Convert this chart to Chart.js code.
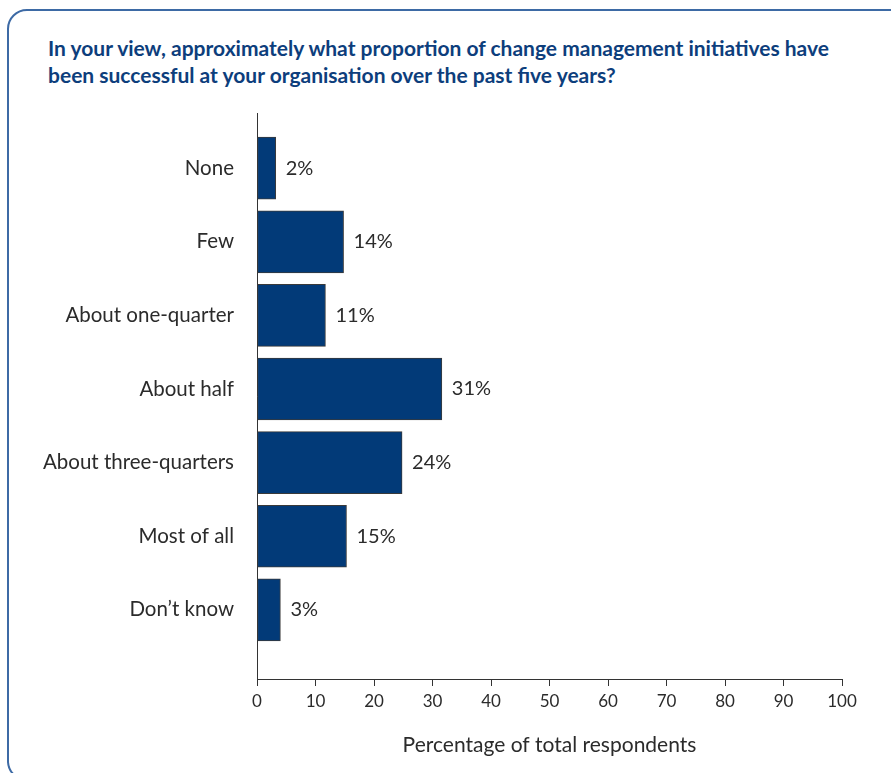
<!DOCTYPE html>
<html>
<head>
<meta charset="utf-8">
<script src="https://cdn.jsdelivr.net/npm/chart.js@4"></script>
<style>
  html, body { margin: 0; padding: 0; background: #fff; overflow: hidden; }
  body { width: 891px; height: 773px; position: relative; }
  #frame {
    position: absolute; left: 7px; top: 9px; width: 1000px; height: 768px;
    border: 2px solid #3d6aa5; border-radius: 20px 0 0 20px;
  }
  #title {
    position: absolute; left: 48px; top: 35px; margin: 0;
    font: bold 21px Lato, sans-serif; line-height: 26.6px; color: #0d3e7c;
  }
  #wrap { position: absolute; left: 0; top: 0; width: 891px; height: 773px; }
</style>
</head>
<body>
<div id="frame"></div>
<h1 id="title">In your view, approximately what proportion of change management initiatives have<br>been successful at your organisation over the past five years?</h1>
<div id="wrap"><canvas id="chart"></canvas></div>
<script>
// answers, top to bottom
const categories = ["None", "Few", "About one-quarter", "About half", "About three-quarters", "Most of all", "Don\u2019t know"];
// bar lengths as drawn (percent)
const barValues = [3.2, 14.8, 11.7, 31.6, 24.8, 15.3, 4.0];
// printed labels
const valueLabels = ["2%", "14%", "11%", "31%", "24%", "15%", "3%"];
const xTicks = [0, 10, 20, 30, 40, 50, 60, 70, 80, 90, 100];

const textColor = "#2b2b2b";
const axisColor = "#333333";

const barLabels = {
  id: "barLabels",
  afterDatasetsDraw(chart) {
    const ctx = chart.ctx;
    const meta = chart.getDatasetMeta(0);
    ctx.save();
    ctx.font = "20px Lato, sans-serif";
    ctx.fillStyle = textColor;
    ctx.textAlign = "left";
    ctx.textBaseline = "middle";
    meta.data.forEach((bar, i) => {
      ctx.fillText(valueLabels[i], bar.x + 10, bar.y);
    });
    ctx.restore();
  }
};

let points = barValues.map((v, i) => ({ x: v, y: i }));

new Chart(document.getElementById("chart"), {
  type: "bar",
  data: {
    datasets: [{
      data: points,
      backgroundColor: "#023a78",
      borderColor: "#3a3a3a",
      borderWidth: 1,
      borderSkipped: false,
      barThickness: 62
    }]
  },
  options: {
    indexAxis: "y",
    responsive: true,
    maintainAspectRatio: false,
    animation: false,
    layout: { padding: { top: 113, right: 49, bottom: 0, left: 0 } },
    plugins: { legend: { display: false }, tooltip: { enabled: false } },
    scales: {
      x: {
        type: "linear",
        min: 0,
        max: 100,
        afterBuildTicks: (scale) => { scale.ticks = xTicks.map(v => ({ value: v })); },
        afterFit: (scale) => { scale.height = 94; },
        grid: { drawOnChartArea: false, drawTicks: true, tickLength: 7, color: axisColor },
        border: { display: true, color: axisColor, width: 1 },
        ticks: { color: textColor, font: { family: "Lato", size: 17 }, padding: 5, maxRotation: 0 },
        title: {
          display: true,
          text: "Percentage of total respondents",
          color: textColor,
          font: { family: "Lato", size: 21 },
          padding: { top: 4, bottom: 15 }
        }
      },
      y: {
        type: "linear",
        reverse: true,
        offset: false,
        min: -0.75,
        max: 6.94,
        afterBuildTicks: (scale) => { scale.ticks = categories.map((c, i) => ({ value: i })); },
        afterFit: (scale) => { scale.width = 257; },
        grid: { offset: false, drawOnChartArea: false, drawTicks: false },
        border: { display: true, color: axisColor, width: 1 },
        ticks: {
          color: textColor,
          font: { family: "Lato", size: 20.5 },
          padding: 23,
          callback: (v) => categories[v] ?? ""
        }
      }
    }
  },
  plugins: [barLabels]
});
</script>
</body>
</html>
